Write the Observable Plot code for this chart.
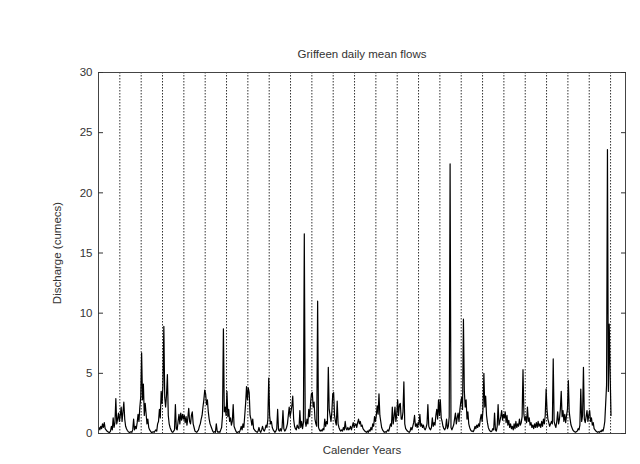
<!DOCTYPE html>
<html><head><meta charset="utf-8">
<script src="https://cdn.jsdelivr.net/npm/d3@7"></script>
<script src="https://cdn.jsdelivr.net/npm/@observablehq/plot@0.6"></script>
<style>body{margin:0;background:#fff}</style>
</head><body><div id="chart"></div>
<script>
const title = "Griffeen daily mean flows";
const xLabel = "Calender Years";
const yLabel = "Discharge (cumecs)";
const yTicks = [0, 5, 10, 15, 20, 25, 30];
const slotsPerYear = 24; // half-monthly readings per calendar year
// flow (cumecs), one list per calendar year
const flows = [
  [0.5,0.3,0.6,0.4,0.8,0.5,0.9,0.4,0.3,0.2,0.15,0.1,0.1,0.2,0.6,0.3,1.3,0.5,0.9,2.9,0.8,1.2,1.7,1.0],
  [1.5,2.2,1.0,1.8,2.6,1.2,0.6,0.4,0.25,0.15,0.1,0.1,0.15,0.1,0.3,1.2,0.3,0.6,0.4,0.9,1.6,1.0,2.2,3.0],
  [6.7,2.8,4.1,1.5,2.5,1.7,0.8,1.2,0.5,0.3,0.2,0.1,0.1,0.15,0.1,0.2,0.3,0.2,0.8,1.0,2.0,1.3,3.5,2.5],
  [4.0,8.9,3.0,2.2,3.2,4.9,1.5,0.8,0.5,0.3,0.15,0.1,0.2,0.3,2.4,0.4,0.3,1.0,1.6,0.8,1.7,1.1,1.6,1.2],
  [1.5,0.9,1.4,0.7,1.3,2.1,1.0,0.8,1.5,1.8,0.8,0.5,0.2,0.15,0.1,0.2,0.3,0.6,0.8,1.2,1.5,2.2,2.8,3.6],
  [3.3,2.4,2.8,1.8,1.2,0.8,0.6,0.4,0.2,0.1,0.15,0.1,0.8,0.2,0.1,0.15,0.1,0.3,0.5,1.5,8.7,1.8,2.2,1.5],
  [3.5,1.4,2.0,1.0,1.3,0.7,1.0,2.4,0.6,0.4,0.2,0.1,0.1,0.15,0.1,0.3,0.6,0.3,0.8,0.5,1.5,2.5,3.9,2.8],
  [3.8,3.4,1.5,1.2,0.7,1.2,0.4,0.3,0.2,0.15,0.1,0.2,0.5,0.2,0.1,0.3,0.6,0.3,0.2,0.4,0.7,0.5,1.2,4.6],
  [1.5,0.8,1.0,0.5,0.3,0.2,0.1,0.2,0.4,2.0,0.3,0.2,0.4,0.2,0.5,1.9,0.4,0.2,0.3,0.5,0.8,1.5,2.2,1.4],
  [1.8,2.3,3.1,1.2,0.6,0.4,0.3,0.7,0.5,0.4,1.9,0.5,1.0,0.4,0.9,16.6,1.0,0.6,1.2,0.8,2.0,1.4,2.5,3.3],
  [3.4,2.2,2.6,1.2,0.8,0.6,11.0,0.5,0.3,0.2,0.3,0.2,0.4,0.3,1.2,0.6,1.0,0.8,5.5,2.0,1.5,1.0,1.8,3.3],
  [3.4,1.5,1.0,0.7,2.7,0.8,0.5,0.3,0.2,0.3,0.2,0.5,0.3,1.0,0.4,0.3,0.5,0.3,0.4,0.6,0.3,0.6,0.9,0.5],
  [0.7,0.8,0.5,0.9,1.2,0.8,1.0,0.6,0.7,0.4,0.3,0.2,0.15,0.1,0.2,0.1,0.3,0.2,0.5,0.3,0.8,0.6,1.4,1.0],
  [1.5,2.3,1.6,3.3,1.5,1.0,0.5,0.3,0.2,0.1,0.15,0.1,0.2,0.3,0.2,0.5,0.8,0.6,2.2,0.8,1.4,2.2,1.0,1.6],
  [2.8,1.5,2.4,2.5,1.2,1.2,1.8,4.3,0.8,0.4,0.3,0.2,0.15,0.1,0.2,0.5,0.3,0.6,0.9,1.5,0.6,0.8,0.5,0.9],
  [0.7,1.6,0.6,0.8,0.5,0.7,0.4,0.3,0.5,0.8,2.4,0.6,0.4,0.3,0.5,1.3,0.6,0.9,0.7,1.5,2.0,1.2,2.8,1.5],
  [2.8,1.3,1.0,0.6,0.4,0.3,0.5,1.2,0.4,0.6,1.4,22.4,0.5,0.3,0.5,0.7,1.2,1.7,0.8,1.3,1.7,1.0,2.0,2.6],
  [3.0,2.0,9.5,3.5,2.2,2.8,1.2,1.8,0.8,0.5,0.3,0.2,0.2,0.15,0.3,0.6,0.4,0.7,0.5,0.8,0.6,1.2,1.6,1.0],
  [2.0,5.0,2.2,3.1,1.5,0.9,0.5,0.3,0.2,0.15,0.2,0.4,0.3,1.7,0.3,0.2,0.6,2.4,0.7,1.0,1.4,1.9,1.1,1.6],
  [1.3,1.8,0.9,1.5,0.7,1.1,0.5,0.8,0.4,0.6,0.3,0.8,0.4,1.0,0.5,0.8,0.6,1.2,0.7,0.9,1.4,5.3,1.6,1.1],
  [1.4,0.9,2.2,1.0,1.3,0.7,0.9,0.5,0.7,0.4,0.8,0.5,0.9,0.5,1.0,0.6,0.8,0.5,1.0,0.6,1.2,0.8,1.5,3.7],
  [2.0,1.2,0.9,0.6,0.8,1.0,0.8,6.2,1.0,0.7,0.5,1.0,1.8,0.8,1.2,2.0,3.5,1.4,1.9,1.0,1.6,0.9,1.5,2.0],
  [4.4,1.8,1.2,0.7,0.5,0.3,0.2,0.15,0.1,0.15,0.2,0.4,0.3,0.7,3.7,1.0,1.5,5.5,1.2,0.9,1.4,1.9,1.0,1.5],
  [1.9,1.0,1.3,0.7,0.9,0.4,0.3,0.2,0.15,0.1,0.15,0.1,0.2,0.15,0.3,0.2,0.5,1.0,2.5,4.0,23.6,3.5,9.1,5.0],
  [1.5]
];
const xMax = 24.7; // end of the x range, in years from the start of the record

const points = flows.flatMap((vals, k) => vals.map((q, i) => ({t: k + (i + 0.5) / slotsPerYear, q})));
const yearStarts = flows.map((_, k) => k).filter(k => k > 0);

const chart = Plot.plot({
  width: 640,
  height: 464,
  marginLeft: 98,
  marginRight: 15,
  marginTop: 72,
  marginBottom: 31,
  style: {fontFamily: "'Liberation Sans', Arial, sans-serif", fontSize: "11.5px", color: "#333", background: "#fff"},
  x: {domain: [0, xMax], axis: null},
  y: {domain: [0, 30]},
  marks: [
    Plot.ruleX(yearStarts, {stroke: "#333", strokeWidth: 1, strokeDasharray: "1.5,1.5"}),
    Plot.line(points, {x: "t", y: "q", stroke: "#000", strokeWidth: 1.2}),
    Plot.frame({stroke: "#444"}),
    Plot.axisY(yTicks, {anchor: "left", tickSize: -5, tickPadding: 11, label: null, fontSize: 11.5}),
    Plot.axisY(yTicks, {anchor: "right", tickSize: -5, tickFormat: () => "", label: null}),
    Plot.text([title], {frameAnchor: "top", dy: -18, lineAnchor: "middle", textAnchor: "middle", text: d => d, fontSize: 11.5, fill: "#333"}),
    Plot.text([xLabel], {frameAnchor: "bottom", dy: 17, lineAnchor: "middle", textAnchor: "middle", text: d => d, fontSize: 11.5, fill: "#333"}),
    Plot.text([yLabel], {frameAnchor: "left", dx: -41, rotate: -90, lineAnchor: "middle", textAnchor: "middle", text: d => d, fontSize: 11.5, fill: "#333"})
  ]
});
document.getElementById("chart").append(chart);
</script>
</body></html>
